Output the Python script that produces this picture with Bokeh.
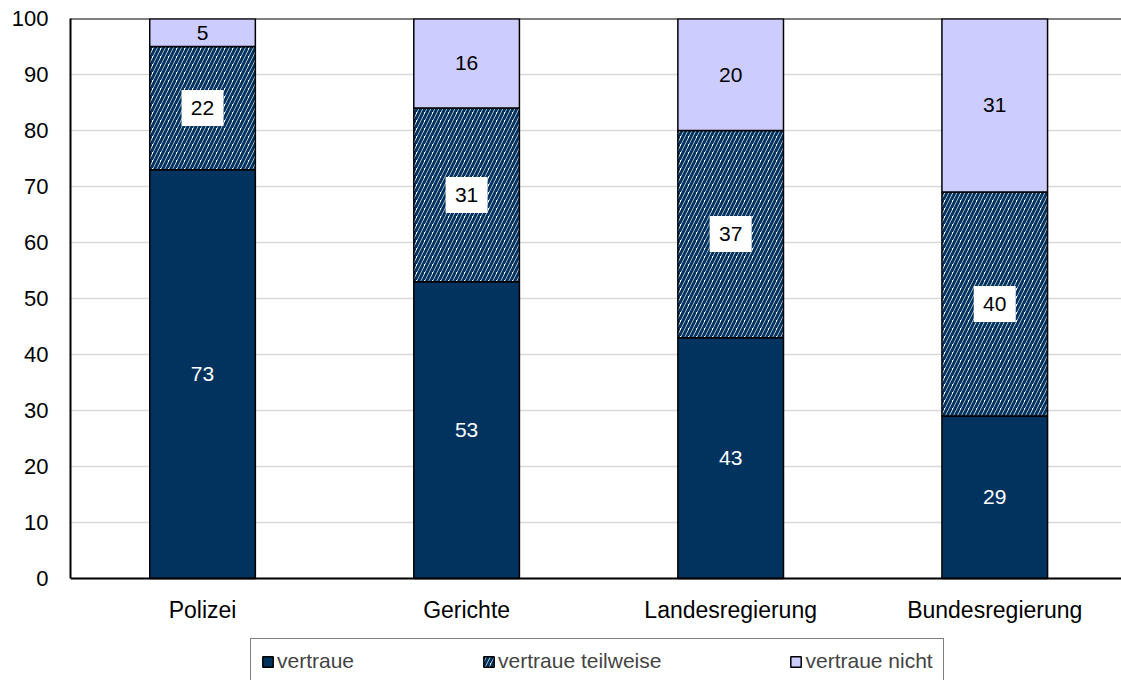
from bokeh.plotting import figure
from bokeh.models import ColumnDataSource, FixedTicker, LabelSet, Legend, LegendItem, Span
from bokeh.core.properties import value
from bokeh.embed import file_html
from bokeh.resources import INLINE

categories = ["Polizei", "Gerichte", "Landesregierung", "Bundesregierung"]
vertraue = [73, 53, 43, 29]
teilweise = [22, 31, 37, 40]
nicht = [5, 16, 20, 31]
series_names = ["vertraue", "vertraue teilweise", "vertraue nicht"]
y_ticks = list(range(0, 101, 10))

NAVY = "#02335f"
LILAC = "#ccccff"
FONT = "Liberation Sans"

# layout: 560 px for 0..100, extra space below 0 inside the frame for labels and legend
PLOT_H = 560
FRAME_H = 662
Y_START = -(FRAME_H - PLOT_H) / (PLOT_H / 100.0)

x = [i + 0.5 for i in range(len(categories))]
b1 = [0] * len(categories)
t1 = vertraue
b2 = t1
t2 = [a + b for a, b in zip(t1, teilweise)]
b3 = t2
t3 = [a + b for a, b in zip(t2, nicht)]

src = ColumnDataSource(dict(
    x=x, b1=b1, t1=t1, b2=b2, t2=t2, b3=b3, t3=t3,
    v1=[str(v) for v in vertraue], v2=[str(v) for v in teilweise], v3=[str(v) for v in nicht],
    m1=[(a + b) / 2 for a, b in zip(b1, t1)],
    m2=[(a + b) / 2 for a, b in zip(b2, t2)],
    m3=[(a + b) / 2 for a, b in zip(b3, t3)],
))

p = figure(frame_width=1051, frame_height=FRAME_H, output_backend="svg", toolbar_location=None,
           x_range=(0, 3.98), y_range=(Y_START, 100),
           min_border_left=70, min_border_top=18, min_border_right=0, min_border_bottom=0)

r1 = p.vbar(x="x", bottom="b1", top="t1", width=0.4, source=src,
            fill_color=NAVY, line_color="black", line_width=1.5)
r2 = p.vbar(x="x", bottom="b2", top="t2", width=0.4, source=src,
            fill_color="white", hatch_pattern="right_diagonal_line", hatch_color=NAVY,
            hatch_scale=8, hatch_weight=3, line_color="black", line_width=1.5)
r3 = p.vbar(x="x", bottom="b3", top="t3", width=0.4, source=src,
            fill_color=LILAC, line_color="black", line_width=1.5)

p.rect(x="x", y="m2", width=42, height=36, width_units="screen", height_units="screen",
       source=src, fill_color="white", line_color=None)

common = dict(source=src, text_align="center", text_baseline="middle",
              text_font=value(FONT), text_font_size="21px")
lab1 = LabelSet(x="x", y="m1", text="v1", text_color="white", **common)
lab2 = LabelSet(x="x", y="m2", text="v2", text_color="black", **common)
lab3 = LabelSet(x="x", y="m3", text="v3", text_color="black", **common)
for l in (lab1, lab2, lab3):
    p.add_layout(l)

p.xaxis.ticker = FixedTicker(ticks=x)
p.xaxis.major_label_overrides = {xi: c for xi, c in zip(x, categories)}
p.xaxis.fixed_location = 0
p.yaxis.ticker = FixedTicker(ticks=y_ticks)
p.yaxis.bounds = (0, 100)
for ax in (p.xaxis, p.yaxis):
    ax.major_tick_line_color = None
    ax.minor_tick_line_color = None
    ax.axis_line_color = "black"
    ax.axis_line_width = 2
    ax.major_label_text_font = FONT
    ax.major_label_text_color = "black"
p.xaxis.major_label_text_font_size = "23px"
p.yaxis.major_label_text_font_size = "22px"
p.xaxis.major_label_standoff = 12
p.yaxis.major_label_standoff = 16

p.xgrid.grid_line_color = None
p.ygrid.grid_line_color = "#d9d9d9"
p.ygrid.grid_line_width = 1.5
p.outline_line_color = None
p.add_layout(Span(location=100, dimension="width", line_color="black", line_width=2))

legend = Legend(items=[
    LegendItem(label=series_names[0], renderers=[r1]),
    LegendItem(label=series_names[1], renderers=[r2]),
    LegendItem(label=series_names[2], renderers=[r3]),
], orientation="horizontal", location=(180, -4),
    label_text_font=FONT, label_text_font_size="21px",
    glyph_width=13, glyph_height=13, spacing=128, label_standoff=3,
    border_line_color="black", border_line_width=1.5,
    padding=10, margin=0, background_fill_color="white")
p.add_layout(legend, "center")

open("out.html", "w").write(file_html(p, INLINE))
